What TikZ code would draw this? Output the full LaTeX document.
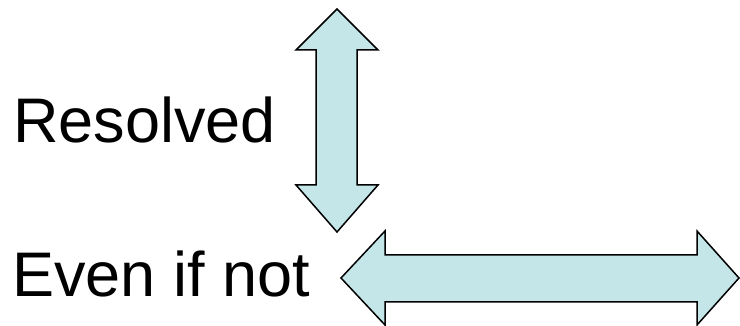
\documentclass[tikz,border=0pt]{standalone}
\usepackage{fontspec}
\setmainfont{Liberation Sans}
\definecolor{arrowfill}{RGB}{197,230,233}
\begin{document}
\begin{tikzpicture}[x=1pt,y=-1pt,
  label text/.style={anchor=base west,inner sep=0pt,font=\fontsize{63}{70}\selectfont},
  block arrow/.style={draw=black,line width=1.5pt,fill=arrowfill,line join=miter}]
\useasboundingbox (0,0) rectangle (740,326);
% labels
\node[label text] (resolved) at (13,143) {Resolved};
\node[label text] (evenifnot) at (12,297) {Even if not};
% vertical double arrow
\draw[block arrow] (337,9) -- (378,50) -- (357,50) -- (357,185) -- (378,185)
  -- (337,232) -- (296,185) -- (316,185) -- (316,50) -- (296,50) -- cycle;
% horizontal double arrow
\draw[block arrow] (341,278) -- (385,231) -- (385,255) -- (697,255) -- (697,231)
  -- (739,278) -- (697,325) -- (697,302) -- (385,302) -- (385,325) -- cycle;
\end{tikzpicture}
\end{document}
